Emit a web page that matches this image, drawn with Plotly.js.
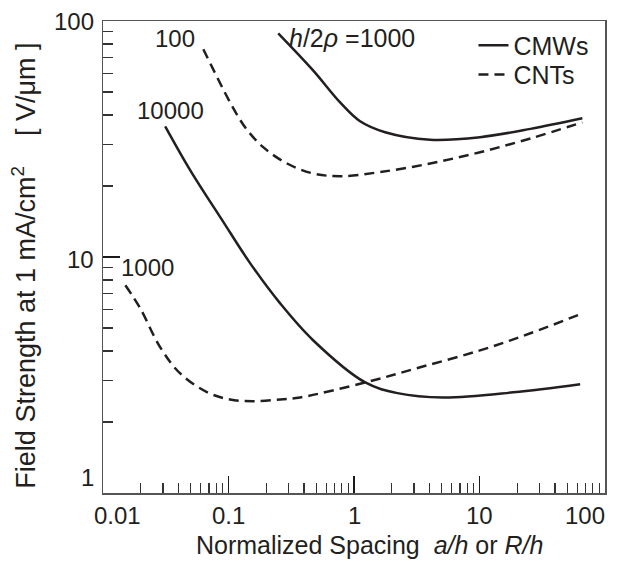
<!DOCTYPE html>
<html>
<head>
<meta charset="utf-8">
<script src="https://cdn.plot.ly/plotly-3.0.1.min.js"></script>
<style>html,body{margin:0;padding:0;background:#fff;}#chart{width:622px;height:561px;}</style>
</head>
<body>
<div id="chart"></div>
<script>
// CMWs, h/2rho = 1000 (solid, upper)
const cmw1000X = [0.249, 0.472, 0.775, 1.118, 1.77, 4.04, 10.1, 25.5, 66];
const cmw1000Y = [88.7, 61.8, 45.2, 37.6, 33.8, 31.4, 32.2, 34.9, 38.7];
// CNTs, h/2rho = 100 (dashed, upper)
const cnt100X = [0.063, 0.0813, 0.103, 0.136, 0.189, 0.293, 0.472, 0.778, 1.61, 4.04, 10.1, 25.5, 66];
const cnt100Y = [75.9, 57.7, 45.2, 35.4, 29.2, 24.9, 22.6, 22.0, 22.9, 24.9, 27.8, 31.8, 37.2];
// CMWs, h/2rho = 10000 (solid, lower)
const cmw10000X = [0.0313, 0.0496, 0.0893, 0.149, 0.258, 0.472, 1.23, 2.22, 5.15, 18.6, 63.4];
const cmw10000Y = [35.8, 23.3, 14.3, 9.40, 6.36, 4.44, 2.94, 2.65, 2.54, 2.67, 2.89];
// CNTs, h/2rho = 1000 (dashed, lower)
const cnt1000X = [0.01507, 0.0198, 0.0286, 0.0412, 0.0679, 0.103, 0.157, 0.258, 0.372, 1.23, 3.37, 10.1, 25.4, 66];
const cnt1000Y = [7.59, 6.06, 4.14, 3.21, 2.67, 2.49, 2.45, 2.49, 2.54, 2.94, 3.41, 4.02, 4.75, 5.77];

const xTickVals = [0.01, 0.1, 1, 10, 100];
const xTickText = ['0.01', '0.1', '1', '10', '100'];
const yTickVals = [1, 10, 100];
const yTickText = ['1', '10', '100'];
const minorDigits = [2, 3, 4, 5, 6, 7, 8, 9];

const xTitle = 'Normalized Spacing\u00a0\u00a0<i>a/h</i> or <i>R/h</i>';
const yTitle = 'Field Strength at 1 mA/cm<sup>2</sup>\u00a0\u00a0\u00a0\u00a0[\u00a0V/μm\u00a0]';

const ink = '#231f20';
const FONT = 'Liberation Sans, Arial, Helvetica, sans-serif';

function minorVals(majors) {
  const out = [];
  majors.slice(0, -1).forEach(m => minorDigits.forEach(d => out.push(m * d)));
  return out;
}

function curve(x, y, name, dash, legend, show) {
  return {
    x: x, y: y, type: 'scatter', mode: 'lines', name: name, legend: legend,
    legendgroup: name, showlegend: show,
    line: {color: ink, width: 2.5, dash: dash, shape: 'spline', smoothing: 1}
  };
}

const DASH = '10px,6px';
const traces = [
  curve(cmw1000X, cmw1000Y, 'CMWs', 'solid', 'legend', true),
  curve(cnt100X, cnt100Y, 'CNTs', DASH, 'legend2', true),
  curve(cmw10000X, cmw10000Y, 'CMWs', 'solid', 'legend', false),
  curve(cnt1000X, cnt1000Y, 'CNTs', DASH, 'legend2', false)
];

const annotations = [];
xTickVals.forEach((v, i) => {
  const a = {x: Math.log10(v), xref: 'x', y: -0.047, yref: 'paper', text: xTickText[i],
    showarrow: false, font: {family: FONT, size: 24, color: ink}, xanchor: 'center', yanchor: 'middle'};
  if (i === 0) { a.xanchor = 'left'; a.xshift = -11; }
  if (i === xTickVals.length - 1) { a.xanchor = 'right'; a.xshift = 2; }
  annotations.push(a);
});
yTickVals.forEach((v, i) => {
  const a = {x: 0, xref: 'paper', xshift: -7, y: Math.log10(v), yref: 'y', text: yTickText[i],
    showarrow: false, font: {family: FONT, size: 24, color: ink}, xanchor: 'right', yanchor: 'middle'};
  if (i === 0) a.yshift = 16;
  if (i === 1) a.yshift = -2;
  annotations.push(a);
});
const lab = (x, y, text, anchor, size) => ({x: x, y: y, xref: 'x', yref: 'y', text: text, showarrow: false,
  font: {family: FONT, size: size || 24, color: ink}, xanchor: anchor || 'center', yanchor: 'middle'});
annotations.push(lab(-1.424, 1.925, '100'));
annotations.push(lab(-1.464, 1.620, '10000'));
annotations.push(lab(-1.647, 0.956, '1000'));
annotations.push(lab(-0.530, 1.927, '<i>h</i>/2<i>ρ</i> =1000', 'left', 25));
// axis titles
annotations.push({x: 0.530, y: -0.1445, xref: 'paper', yref: 'paper', text: xTitle, showarrow: false,
  font: {family: FONT, size: 25, color: ink}, xanchor: 'center', yanchor: 'bottom'});
annotations.push({x: -0.1567, y: 0.4824, xref: 'paper', yref: 'paper', text: yTitle, showarrow: false,
  textangle: -90, font: {family: FONT, size: 27, color: ink}, xanchor: 'center', yanchor: 'middle'});

function axis(range, majors) {
  return {
    type: 'log', range: range, showgrid: false, zeroline: false, showline: true, mirror: true,
    linecolor: '#555', linewidth: 1.5, ticks: 'inside', ticklen: 17, tickwidth: 1.6,
    tickcolor: '#1a1a1a', tickmode: 'array', tickvals: majors, showticklabels: false,
    minor: {ticks: 'inside', ticklen: 10, tickwidth: 1.3, tickcolor: '#333', tickmode: 'array',
      tickvals: minorVals(majors), showgrid: false}
  };
}

const legendFont = {family: FONT, size: 25, color: ink};
const layout = {
  width: 622, height: 561,
  margin: {l: 103, r: 17, t: 21, b: 68},
  paper_bgcolor: '#fff', plot_bgcolor: '#fff',
  font: {family: FONT, color: ink},
  showlegend: true,
  legend: {x: 0.738, y: 0.948, xanchor: 'left', yanchor: 'middle', bgcolor: 'rgba(0,0,0,0)',
    font: legendFont, borderwidth: 0},
  legend2: {x: 0.738, y: 0.886, xanchor: 'left', yanchor: 'middle', bgcolor: 'rgba(0,0,0,0)',
    font: legendFont, borderwidth: 0},
  xaxis: axis([-2, 2], xTickVals),
  yaxis: axis([0, 2], yTickVals),
  annotations: annotations
};

Plotly.newPlot('chart', traces, layout, {staticPlot: true, displayModeBar: false});
</script>
</body>
</html>
